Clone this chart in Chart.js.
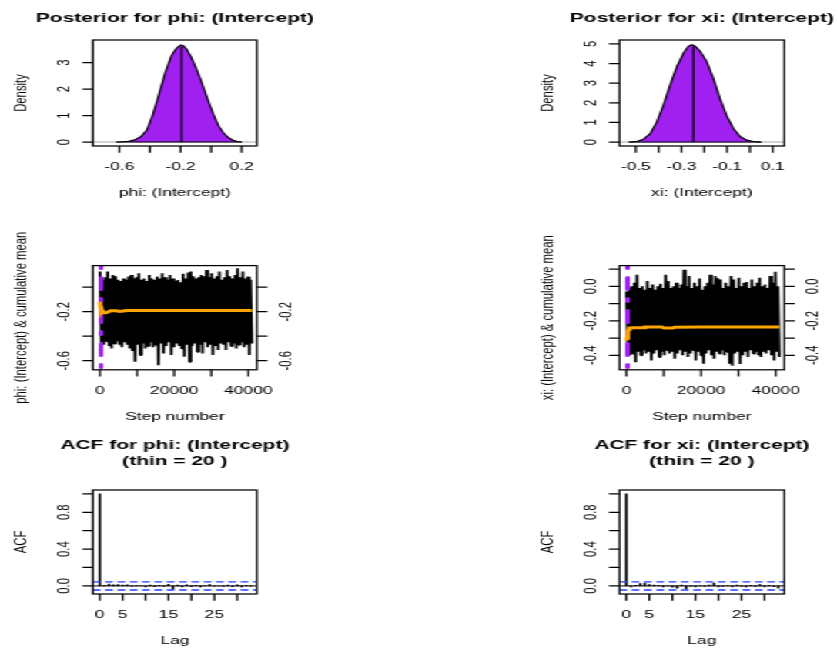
<!DOCTYPE html>
<html lang="en">
<head>
<meta charset="UTF-8">
<title>MCMC diagnostics: phi and xi intercepts</title>
<script src="https://cdn.jsdelivr.net/npm/chart.js"></script>
<style>
  html, body { margin: 0; padding: 0; background: #fff; overflow: hidden; }
  /* the whole figure is laid out at 544 px and widened to the window */
  #figure { position: relative; width: 544px; height: 648px; transform: scaleX(1.54); transform-origin: 0 0; }
  #figure canvas { position: absolute; left: 0; top: 0; }
</style>
</head>
<body>
<div id="figure">
  <canvas id="phiDens" width="544" height="648"></canvas>
  <canvas id="xiDens" width="544" height="648"></canvas>
  <canvas id="phiTrace" width="544" height="648"></canvas>
  <canvas id="xiTrace" width="544" height="648"></canvas>
  <canvas id="phiAcfChart" width="544" height="648"></canvas>
  <canvas id="xiAcfChart" width="544" height="648"></canvas>
</div>

<script>
// ---------- posterior densities ----------
const phiDensX = [-0.62, -0.58, -0.54, -0.5, -0.46, -0.42, -0.38, -0.34, -0.3, -0.26, -0.23, -0.21, -0.195, -0.18, -0.16, -0.13, -0.1, -0.07, -0.04, -0.01, 0.02, 0.05, 0.08, 0.11, 0.14, 0.17, 0.2];
const phiDensY = [0, 0.01, 0.03, 0.08, 0.2, 0.45, 1.05, 1.83, 2.62, 3.25, 3.52, 3.62, 3.66, 3.63, 3.5, 3.2, 2.82, 2.38, 1.9, 1.42, 0.98, 0.6, 0.35, 0.18, 0.08, 0.02, 0];
const phiMean = -0.193;
const phiMeanDens = 3.6;

const xiDensX = [-0.53, -0.496, -0.467, -0.437, -0.408, -0.379, -0.35, -0.32, -0.29, -0.27, -0.255, -0.24, -0.218, -0.189, -0.16, -0.131, -0.1, -0.072, -0.043, -0.014, 0.015, 0.05];
const xiDensY = [0, 0.03, 0.14, 0.43, 1.03, 1.88, 2.9, 3.85, 4.55, 4.88, 4.96, 4.88, 4.62, 4.1, 3.25, 2.22, 1.3, 0.69, 0.28, 0.1, 0.03, 0];
const xiMean = -0.248;
const xiMeanDens = 4.85;

// ---------- traces: highest / lowest draw in each block of 700 steps ----------
const traceBlock = 700;
const phiHigh = [0.127, 0.06, 0.08, 0.127, 0.07, 0.10, 0.09, 0.06, 0.05, 0.07,
  0.06, 0.086, 0.10, 0.07, 0.08, 0.114, 0.06, 0.07, 0.05, 0.10,
  0.07, 0.06, 0.086, 0.07, 0.114, 0.08, 0.06, 0.10, 0.07, 0.05,
  0.059, 0.04, 0.11, 0.07, 0.12, 0.127, 0.09, 0.07, 0.08, 0.10,
  0.09, 0.141, 0.08, 0.114, 0.07, 0.09, 0.127, 0.06, 0.08, 0.141,
  0.09, 0.07, 0.10, 0.154, 0.08, 0.127, 0.07, 0.086, 0.06];
const phiLow = [-0.45, -0.47, -0.44, -0.48, -0.50, -0.46, -0.44, -0.47, -0.49, -0.45,
  -0.47, -0.50, -0.52, -0.609, -0.47, -0.554, -0.46, -0.50, -0.48, -0.45,
  -0.49, -0.47, -0.636, -0.46, -0.54, -0.48, -0.45, -0.554, -0.49, -0.46,
  -0.48, -0.50, -0.568, -0.47, -0.609, -0.48, -0.46, -0.527, -0.47, -0.54,
  -0.45, -0.49, -0.47, -0.554, -0.48, -0.513, -0.46, -0.47, -0.513, -0.45,
  -0.48, -0.46, -0.50, -0.47, -0.45, -0.49, -0.47, -0.554, -0.46];
const xiHigh = [-0.03, -0.01, 0.0, 0.02, 0.067, -0.01, 0.0, -0.02, 0.03, -0.01,
  0.01, -0.02, 0.0, 0.015, -0.01, 0.067, 0.03, -0.01, 0.0, 0.02,
  -0.01, 0.01, 0.096, 0.0, 0.06, -0.01, 0.02, 0.0, 0.045, -0.02,
  0.0, 0.02, 0.067, 0.01, 0.06, 0.046, 0.04, -0.01, 0.02, 0.0,
  0.06, 0.04, -0.01, 0.05, 0.0, 0.02, 0.025, -0.01, 0.04, 0.0,
  0.02, 0.05, 0.0, 0.01, -0.01, 0.06, 0.02, 0.084, 0.0];
const xiLow = [-0.38, -0.40, -0.39, -0.44, -0.38, -0.40, -0.37, -0.39, -0.38, -0.43,
  -0.39, -0.37, -0.41, -0.38, -0.40, -0.37, -0.39, -0.38, -0.42, -0.39,
  -0.37, -0.40, -0.38, -0.41, -0.39, -0.37, -0.43, -0.38, -0.40, -0.449,
  -0.39, -0.37, -0.40, -0.42, -0.38, -0.39, -0.37, -0.40, -0.38, -0.449,
  -0.46, -0.39, -0.38, -0.45, -0.40, -0.38, -0.41, -0.37, -0.39, -0.38,
  -0.40, -0.41, -0.38, -0.39, -0.37, -0.40, -0.43, -0.38, -0.41];

// cumulative means
const phiCumStep = [0, 150, 300, 450, 600, 900, 1300, 1800, 2300, 2800, 4500, 5000, 6000, 6500, 8000, 41000];
const phiCumMean = [-0.12, -0.16, -0.19, -0.2, -0.19, -0.205, -0.21, -0.208, -0.2, -0.193, -0.193, -0.197, -0.197, -0.193, -0.191, -0.191];
const xiCumStep = [0, 150, 300, 450, 600, 800, 1500, 3000, 4700, 5000, 9500, 10000, 12500, 13000, 20000, 41000];
const xiCumMean = [-0.315, -0.3, -0.28, -0.26, -0.25, -0.242, -0.24, -0.24, -0.24, -0.236, -0.236, -0.241, -0.241, -0.237, -0.236, -0.236];
const burnIn = 300;

// ---------- autocorrelation (thin = 20) ----------
const acfLag = [0, 1, 2, 3, 4, 5, 6, 7, 8, 9, 10, 11, 12, 13, 14, 15, 16, 17, 18, 19, 20, 21, 22, 23, 24, 25, 26, 27, 28, 29, 30, 31, 32, 33];
const phiAcf = [1.0, 0.005, 0.02, 0.012, 0.015, 0.01, 0.012, -0.005, 0.004, 0.002, -0.012, 0.008, -0.008, 0.006, -0.005, 0.018, -0.035, 0.01, -0.01, 0.012, -0.008, 0.006, -0.01, 0.004, 0.015, -0.004, 0.002, -0.006, 0.01, -0.008, 0.012, -0.01, 0.006, -0.004];
const xiAcf = [1.0, -0.01, 0.005, 0.025, 0.03, 0.015, 0.01, 0.005, -0.01, 0.004, -0.015, -0.025, 0.008, -0.03, -0.005, -0.01, 0.004, -0.006, 0.008, 0.03, -0.01, -0.006, 0.004, -0.012, 0.008, -0.006, -0.01, 0.006, -0.008, 0.015, -0.01, 0.006, -0.008, -0.025];
const acfBound = 0.0447;

// ---------- axis ticks and the labels R kept ----------
const phiDensXTicks = [-0.6, -0.4, -0.2, 0, 0.2];
const phiDensXLabels = ['-0.6', '', '-0.2', '', '0.2'];
const phiDensYTicks = [0, 1, 2, 3];
const phiDensYLabels = ['0', '1', '2', '3'];
const xiDensXTicks = [-0.5, -0.4, -0.3, -0.2, -0.1, 0, 0.1];
const xiDensXLabels = ['-0.5', '', '-0.3', '', '-0.1', '', '0.1'];
const xiDensYTicks = [0, 1, 2, 3, 4, 5];
const xiDensYLabels = ['0', '1', '2', '3', '4', '5'];
const stepTicks = [0, 10000, 20000, 30000, 40000];
const stepLabels = ['0', '', '20000', '', '40000'];
const phiTraceYTicks = [0, -0.2, -0.4, -0.6];
const phiTraceYLabels = ['', '-0.2', '', '-0.6'];
const xiTraceYTicks = [0.1, 0, -0.1, -0.2, -0.3, -0.4];
const xiTraceYLabels = ['', '0.0', '', '-0.2', '', '-0.4'];
const lagTicks = [0, 5, 10, 15, 20, 25, 30];
const lagLabels = ['0', '5', '', '15', '', '25', ''];
const acfYTicks = [0, 0.2, 0.4, 0.6, 0.8, 1.0];
const acfYLabels = ['0.0', '', '0.4', '', '0.8', ''];

// ---------- figure layout ----------
const FIG_W = 544, FIG_H = 648;
const COL_X = [[60.3, 166.8], [402.2, 509.3]];
const ROW_Y = [[40, 146], [265.6, 369.8], [490, 594]];
const TICK_LEN = 6.8;
const AXIS_FONT = '11.3px "Liberation Sans", Arial, sans-serif';
const TITLE_FONT = 'bold 13.6px "Liberation Sans", Arial, sans-serif';
const PURPLE = '#A020F0';
const ORANGE = '#FFA500';

const pts = (xs, ys) => xs.map((x, i) => ({ x, y: ys[i] }));

function zigzag(high, low) {
  const out = [];
  high.forEach((h, i) => {
    out.push({ x: i * traceBlock, y: h });
    out.push({ x: i * traceBlock + traceBlock / 2, y: low[i] });
  });
  return out;
}

function upright(ctx, text, x, y) {
  ctx.save();
  ctx.translate(x, y);
  ctx.rotate(-Math.PI / 2);
  ctx.fillText(text, 0, 0);
  ctx.restore();
}

// box, outward ticks, labels and titles in base-graphics style
function frame(o) {
  return {
    id: 'frame',
    afterDraw(chart) {
      const { ctx, chartArea: a, scales: { x, y } } = chart;
      ctx.save();
      ctx.strokeStyle = '#000';
      ctx.fillStyle = '#000';
      ctx.lineWidth = 1.25;
      ctx.strokeRect(a.left, a.top, a.right - a.left, a.bottom - a.top);

      ctx.beginPath();
      o.xTicks.forEach(v => {
        const p = x.getPixelForValue(v);
        ctx.moveTo(p, a.bottom);
        ctx.lineTo(p, a.bottom + TICK_LEN);
      });
      o.yTicks.forEach(v => {
        const p = y.getPixelForValue(v);
        ctx.moveTo(a.left, p);
        ctx.lineTo(a.left - TICK_LEN, p);
        if (o.rightAxis) {
          ctx.moveTo(a.right, p);
          ctx.lineTo(a.right + TICK_LEN, p);
        }
      });
      ctx.stroke();

      const cx = (a.left + a.right) / 2;
      ctx.font = AXIS_FONT;
      ctx.textAlign = 'center';
      ctx.textBaseline = 'alphabetic';
      o.xTicks.forEach((v, i) => {
        if (o.xLabels[i]) ctx.fillText(o.xLabels[i], x.getPixelForValue(v), a.bottom + 24);
      });
      ctx.fillText(o.xTitle, cx, a.bottom + 49.8);

      ctx.textBaseline = 'middle';
      o.yTicks.forEach((v, i) => {
        if (!o.yLabels[i]) return;
        const p = y.getPixelForValue(v);
        upright(ctx, o.yLabels[i], a.left - 18.7, p);
        if (o.rightAxis) upright(ctx, o.yLabels[i], a.right + 18.7, p);
      });
      upright(ctx, o.yTitle, a.left - 46.8, (a.top + a.bottom) / 2);

      ctx.font = TITLE_FONT;
      ctx.textBaseline = 'alphabetic';
      (o.title || []).forEach((line, i) => ctx.fillText(line, cx, a.top - o.titleGap + i * 16));
      ctx.restore();
    }
  };
}

function panel(id, col, row, type, datasets, xRange, yRange, axes) {
  const [l, r] = COL_X[col];
  const [t, b] = ROW_Y[row];
  return new Chart(document.getElementById(id), {
    type,
    data: { datasets },
    options: {
      responsive: false,
      animation: false,
      devicePixelRatio: 1,
      events: [],
      layout: { padding: { left: l, right: FIG_W - r, top: t, bottom: FIG_H - b } },
      plugins: { legend: { display: false }, tooltip: { enabled: false } },
      elements: { point: { radius: 0 }, line: { tension: 0 } },
      scales: {
        x: { type: 'linear', min: xRange[0], max: xRange[1], display: false, offset: false },
        y: { type: 'linear', min: yRange[0], max: yRange[1], display: false }
      }
    },
    plugins: [frame(axes)]
  });
}

function densityPanel(id, col, xs, ys, mean, meanDens, xRange, yRange, axes) {
  panel(id, col, 0, 'line', [
    { data: [{ x: xRange[0], y: 0 }, { x: xRange[1], y: 0 }], borderColor: '#c4c4c4', borderWidth: 1.5, order: 4 },
    { data: pts(xs, ys), borderColor: '#000', borderWidth: 1.2, backgroundColor: PURPLE, fill: 'origin', order: 3 },
    { data: [{ x: xs[0], y: 0 }, { x: xs[xs.length - 1], y: 0 }], borderColor: '#000', borderWidth: 1, order: 2 },
    { data: [{ x: mean, y: 0 }, { x: mean, y: meanDens }], borderColor: '#000', borderWidth: 1.15, order: 1 }
  ], xRange, yRange, axes);
}

function tracePanel(id, col, high, low, cumStep, cumMean, yRange, axes) {
  panel(id, col, 1, 'line', [
    { data: pts(cumStep, cumMean), borderColor: ORANGE, borderWidth: 3, order: 0 },
    { data: [{ x: burnIn, y: yRange[1] }, { x: burnIn, y: yRange[0] }], borderColor: PURPLE, borderWidth: 3,
      borderDash: [3, 9, 12, 9], borderCapStyle: 'round', order: 1 },
    { data: zigzag(high, low), borderColor: '#000', borderWidth: 1.8, borderJoinStyle: 'bevel', order: 2 }
  ], [-1900, 42300], yRange, axes);
}

function acfPanel(id, col, acf, axes) {
  const xr = [-1.5, 34.3];
  panel(id, col, 2, 'bar', [
    { type: 'line', data: [{ x: xr[0], y: acfBound }, { x: xr[1], y: acfBound }], borderColor: '#1f3dff', borderWidth: 1.3, borderDash: [5, 3], order: 0 },
    { type: 'line', data: [{ x: xr[0], y: -acfBound }, { x: xr[1], y: -acfBound }], borderColor: '#1f3dff', borderWidth: 1.3, borderDash: [5, 3], order: 0 },
    { type: 'line', data: [{ x: xr[0], y: 0 }, { x: xr[1], y: 0 }], borderColor: '#000', borderWidth: 1, order: 1 },
    { data: pts(acfLag, acf), backgroundColor: '#000', borderWidth: 0, barThickness: 1, order: 2 }
  ], xr, [-0.088, 1.042], axes);
}

densityPanel('phiDens', 0, phiDensX, phiDensY, phiMean, phiMeanDens, [-0.773, 0.299], [-0.15, 3.85], {
  xTicks: phiDensXTicks, xLabels: phiDensXLabels, yTicks: phiDensYTicks, yLabels: phiDensYLabels,
  xTitle: 'phi: (Intercept)', yTitle: 'Density', title: ['Posterior for phi: (Intercept)'], titleGap: 18.3
});
densityPanel('xiDens', 1, xiDensX, xiDensY, xiMean, xiMeanDens, [-0.572, 0.151], [-0.2, 5.2], {
  xTicks: xiDensXTicks, xLabels: xiDensXLabels, yTicks: xiDensYTicks, yLabels: xiDensYLabels,
  xTitle: 'xi: (Intercept)', yTitle: 'Density', title: ['Posterior for xi: (Intercept)'], titleGap: 18.3
});

tracePanel('phiTrace', 0, phiHigh, phiLow, phiCumStep, phiCumMean, [-0.674, 0.176], {
  xTicks: stepTicks, xLabels: stepLabels, yTicks: phiTraceYTicks, yLabels: phiTraceYLabels, rightAxis: true,
  xTitle: 'Step number', yTitle: 'phi: (Intercept) & cumulative mean'
});
tracePanel('xiTrace', 1, xiHigh, xiLow, xiCumStep, xiCumMean, [-0.484, 0.12], {
  xTicks: stepTicks, xLabels: stepLabels, yTicks: xiTraceYTicks, yLabels: xiTraceYLabels, rightAxis: true,
  xTitle: 'Step number', yTitle: 'xi: (Intercept) & cumulative mean'
});

acfPanel('phiAcfChart', 0, phiAcf, {
  xTicks: lagTicks, xLabels: lagLabels, yTicks: acfYTicks, yLabels: acfYLabels,
  xTitle: 'Lag', yTitle: 'ACF', title: ['ACF for phi: (Intercept)', '(thin = 20 )'], titleGap: 41
});
acfPanel('xiAcfChart', 1, xiAcf, {
  xTicks: lagTicks, xLabels: lagLabels, yTicks: acfYTicks, yLabels: acfYLabels,
  xTitle: 'Lag', yTitle: 'ACF', title: ['ACF for xi: (Intercept)', '(thin = 20 )'], titleGap: 41
});
</script>
</body>
</html>
